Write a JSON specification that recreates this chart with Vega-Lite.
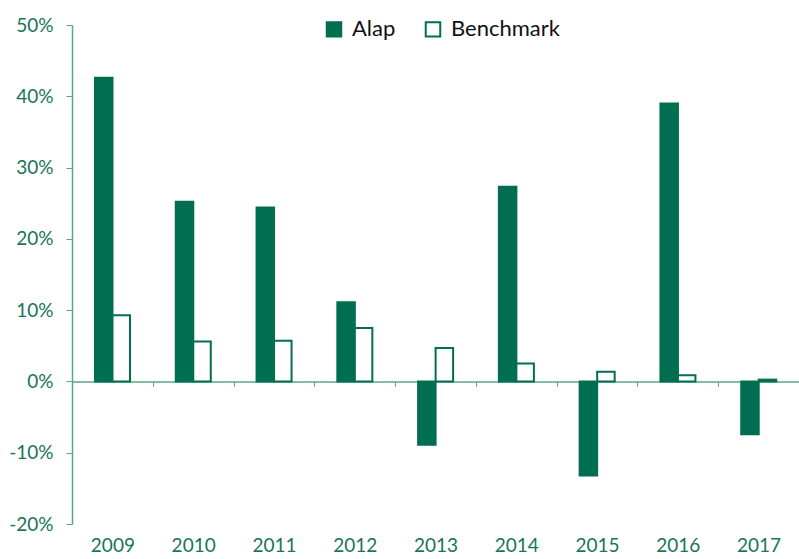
{
  "$schema": "https://vega.github.io/schema/vega-lite/v6.json",
  "width": 727,
  "height": 499,
  "autosize": {"type": "none"},
  "padding": {"left": 72, "top": 25, "right": 0, "bottom": 35},
  "background": "white",
  "config": {
    "view": {"stroke": null},
    "font": "Lato"
  },
  "data": {
    "values": [
      {"year": "2009", "series": "Alap", "value": 0.426},
      {"year": "2009", "series": "Benchmark", "value": 0.093},
      {"year": "2010", "series": "Alap", "value": 0.252},
      {"year": "2010", "series": "Benchmark", "value": 0.056},
      {"year": "2011", "series": "Alap", "value": 0.244},
      {"year": "2011", "series": "Benchmark", "value": 0.057},
      {"year": "2012", "series": "Alap", "value": 0.111},
      {"year": "2012", "series": "Benchmark", "value": 0.075},
      {"year": "2013", "series": "Alap", "value": -0.089},
      {"year": "2013", "series": "Benchmark", "value": 0.047},
      {"year": "2014", "series": "Alap", "value": 0.273},
      {"year": "2014", "series": "Benchmark", "value": 0.025},
      {"year": "2015", "series": "Alap", "value": -0.132},
      {"year": "2015", "series": "Benchmark", "value": 0.0135},
      {"year": "2016", "series": "Alap", "value": 0.39},
      {"year": "2016", "series": "Benchmark", "value": 0.0085},
      {"year": "2017", "series": "Alap", "value": -0.074},
      {"year": "2017", "series": "Benchmark", "value": 0.0025}
    ]
  },
  "mark": {"type": "bar", "strokeWidth": 2, "strokeJoin": "miter"},
  "encoding": {
    "x": {
      "field": "year",
      "type": "nominal",
      "title": null,
      "scale": {"paddingInner": 0, "paddingOuter": 0},
      "axis": {
        "orient": "bottom",
        "offset": -142.6,
        "tickBand": "extent",
        "tickSize": 5,
        "tickColor": "#5aa882",
        "domainColor": "#5aa882",
        "domainWidth": 1.5,
        "labelAngle": 0,
        "labelFontSize": 19,
        "labelColor": "#187558",
        "labelPadding": 150
      }
    },
    "xOffset": {
      "field": "series",
      "type": "nominal",
      "scale": {"range": [23, 58], "paddingInner": 0, "paddingOuter": 0}
    },
    "y": {
      "field": "value",
      "type": "quantitative",
      "title": null,
      "scale": {"domain": [-0.2, 0.5], "nice": false, "zero": false},
      "axis": {
        "values": [-0.2, -0.1, 0, 0.1, 0.2, 0.3, 0.4, 0.5],
        "labelExpr": "replace(format(datum.value, '.0%'), '\u2212', '-')",
        "grid": false,
        "tickSize": 6,
        "tickColor": "#5aa882",
        "domainColor": "#5aa882",
        "domainWidth": 1.5,
        "labelFontSize": 19,
        "labelColor": "#187558",
        "labelPadding": 13
      }
    },
    "fill": {
      "field": "series",
      "type": "nominal",
      "scale": {"domain": ["Alap", "Benchmark"], "range": ["#006e51", "#ffffff"]},
      "legend": {
        "title": null,
        "orient": "none",
        "direction": "horizontal",
        "legendX": 251,
        "legendY": -7,
        "symbolType": "square",
        "symbolSize": 210,
        "symbolStrokeWidth": 2,
        "labelFontSize": 22,
        "labelColor": "#111111",
        "labelOffset": 7,
        "columnPadding": 25
      }
    },
    "stroke": {
      "field": "series",
      "type": "nominal",
      "scale": {"domain": ["Alap", "Benchmark"], "range": ["#006e51", "#006e51"]},
      "legend": null
    }
  }
}
